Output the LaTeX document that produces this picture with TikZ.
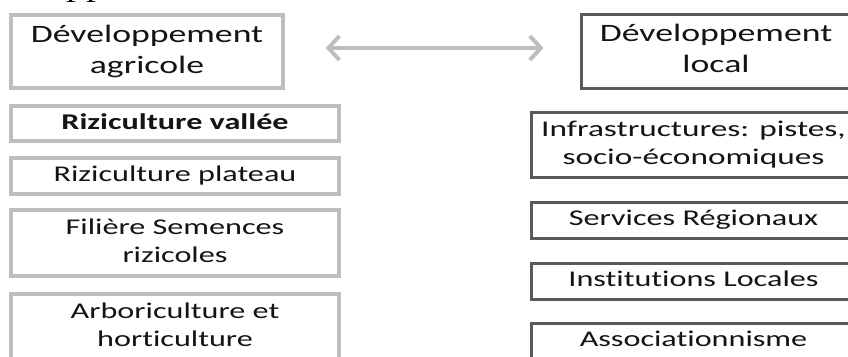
\documentclass[tikz,border=0pt]{standalone}
\usepackage{fontspec}
\setmainfont{Carlito}[Ligatures={NoCommon}]
\newfontfamily\serifpart{Liberation Serif}
\usetikzlibrary{arrows.meta}
\definecolor{lightframe}{HTML}{BEBEBE}
\definecolor{darkframe}{HTML}{5A5A5A}
\definecolor{txt}{HTML}{141414}
\definecolor{arrowgray}{HTML}{BDBDBD}
\newcommand{\sx}[1]{\scalebox{1.43}[1]{\begin{tabular}{@{}c@{}}#1\end{tabular}}}
\tikzset{
 box/.style={draw, rectangle, inner sep=0pt, text=txt},
 leftbox/.style={box, draw=lightframe, line width=3.5pt},
 rightbox/.style={box, draw=darkframe, line width=3pt},
 headfont/.style={font=\fontsize{25}{31}\selectfont},
 itemfont/.style={font=\fontsize{22.5}{28}\selectfont},
 barb/.style={arrowgray, line width=4pt, {Straight Barb[length=11pt,width=24pt]}-{Straight Barb[length=11pt,width=24pt]}}
}
\begin{document}
\begin{tikzpicture}[x=1pt,y=-1pt]
\useasboundingbox (0,0) rectangle (848,356);
\fill[white] (0,0) rectangle (848,356);
\clip (0,0) rectangle (848,356);
\node[font=\serifpart\fontsize{28}{28}\selectfont, anchor=base west, text=black, inner sep=0pt] (frag) at (66,-3) {\scalebox{1.43}[1]{pp}};
% left column
\node[leftbox, headfont, minimum width=272pt, minimum height=73pt] (dA) at (147,51.5) {\sx{Développement\\agricole}};
\node[leftbox, itemfont, minimum width=328pt, minimum height=35pt] (rv) at (175,123.5) {\sx{\textbf{Riziculture vallée}}};
\node[leftbox, itemfont, minimum width=328pt, minimum height=36pt] (rp) at (175,176) {\sx{Riziculture plateau}};
\node[leftbox, itemfont, minimum width=328pt, minimum height=66pt] (fs) at (175,243) {\sx{Filière Semences\\rizicoles}};
\node[leftbox, itemfont, minimum width=328pt, minimum height=66pt] (ah) at (175,327) {\sx{Arboriculture et\\horticulture}};
% right column
\node[rightbox, headfont, minimum width=270pt, minimum height=74pt] (dL) at (716,51) {\sx{Développement\\local}};
\node[rightbox, itemfont, minimum width=325pt, minimum height=65pt] (inf) at (693.5,144.5) {\scalebox{1.48}[1]{\begin{tabular}{@{}c@{}}Infrastructures: pistes,\\socio-économiques\end{tabular}}};
\node[rightbox, itemfont, minimum width=325pt, minimum height=36pt] (sr) at (693.5,220) {\sx{Services Régionaux}};
\node[rightbox, itemfont, minimum width=325pt, minimum height=36pt] (il) at (693.5,281) {\sx{Institutions Locales}};
\node[rightbox, itemfont, minimum width=325pt, minimum height=36pt] (as) at (693.5,341) {\sx{Associationnisme}};
% double arrow
\draw[barb, shorten <=41pt, shorten >=36pt] ([yshift=3.5pt]dA.east) -- ([yshift=3pt]dL.west);
\end{tikzpicture}
\end{document}
